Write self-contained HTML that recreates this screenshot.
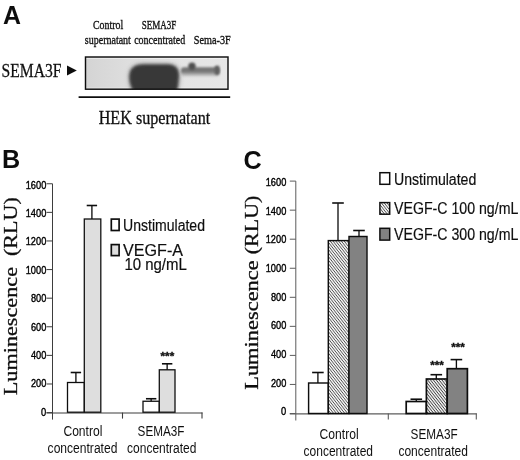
<!DOCTYPE html>
<html lang="en"><head><meta charset="utf-8"><title>Figure</title>
<style>html,body{margin:0;padding:0;background:#fff}svg{display:block}</style>
</head><body>
<svg width="520" height="460" viewBox="0 0 520 460">
<rect width="520" height="460" fill="#fff"/>
<filter id="soft" x="0" y="0" width="100%" height="100%" filterUnits="userSpaceOnUse" primitiveUnits="userSpaceOnUse"><feGaussianBlur stdDeviation="0.45"/></filter>
<g filter="url(#soft)">
<rect width="520" height="460" fill="#fff"/>
<text x="2.9" y="24.3" font-family='"Liberation Sans", Arial, sans-serif' font-size="25.4" font-weight="bold" text-anchor="start" fill="#111" textLength="18" lengthAdjust="spacingAndGlyphs">A</text>
<text x="2.1" y="168.3" font-family='"Liberation Sans", Arial, sans-serif' font-size="25.2" font-weight="bold" text-anchor="start" fill="#111">B</text>
<text x="243.6" y="168.5" font-family='"Liberation Sans", Arial, sans-serif' font-size="25.2" font-weight="bold" text-anchor="start" fill="#111">C</text>
<text x="93.0" y="29" font-family='"Liberation Serif", "Times New Roman", serif' font-size="13.4" font-weight="normal" text-anchor="start" fill="#111" textLength="30.2" lengthAdjust="spacingAndGlyphs" stroke="#111" stroke-width="0.35">Control</text>
<text x="141.8" y="28.8" font-family='"Liberation Serif", "Times New Roman", serif' font-size="12.8" font-weight="normal" text-anchor="start" fill="#111" textLength="34.6" lengthAdjust="spacingAndGlyphs" stroke="#111" stroke-width="0.35">SEMA3F</text>
<text x="84.8" y="43.5" font-family='"Liberation Serif", "Times New Roman", serif' font-size="13.4" font-weight="normal" text-anchor="start" fill="#111" textLength="46.1" lengthAdjust="spacingAndGlyphs" stroke="#111" stroke-width="0.35">supernatant</text>
<text x="134.2" y="43.5" font-family='"Liberation Serif", "Times New Roman", serif' font-size="13.4" font-weight="normal" text-anchor="start" fill="#111" textLength="51.0" lengthAdjust="spacingAndGlyphs" stroke="#111" stroke-width="0.35">concentrated</text>
<text x="193.8" y="43.5" font-family='"Liberation Serif", "Times New Roman", serif' font-size="13.4" font-weight="normal" text-anchor="start" fill="#111" textLength="36.9" lengthAdjust="spacingAndGlyphs" stroke="#111" stroke-width="0.35">Sema-3F</text>
<text x="1.6" y="76.6" font-family='"Liberation Serif", "Times New Roman", serif' font-size="19.4" font-weight="normal" text-anchor="start" fill="#111" textLength="59.8" lengthAdjust="spacingAndGlyphs" stroke="#111" stroke-width="0.3">SEMA3F</text>
<polygon points="67,65.6 76.8,70.6 67,75.6" fill="#111"/>
<text x="98.7" y="123.8" font-family='"Liberation Serif", "Times New Roman", serif' font-size="18.6" font-weight="normal" text-anchor="start" fill="#111" textLength="111.6" lengthAdjust="spacingAndGlyphs" stroke="#111" stroke-width="0.3">HEK supernatant</text>
<defs>
<filter id="b1" x="-20%" y="-20%" width="140%" height="140%"><feGaussianBlur stdDeviation="1.8"/></filter>
<filter id="b2" x="-20%" y="-50%" width="140%" height="200%"><feGaussianBlur stdDeviation="1.25"/></filter>
<filter id="b3" x="-20%" y="-20%" width="140%" height="140%"><feGaussianBlur stdDeviation="2.6"/></filter>
<linearGradient id="bg" x1="0" x2="1" y1="0" y2="0"><stop offset="0" stop-color="#d4d4d4"/><stop offset="0.3" stop-color="#dedede"/><stop offset="0.62" stop-color="#e4e4e4"/><stop offset="1" stop-color="#e6e6e6"/></linearGradient>
<clipPath id="bc"><rect x="85.5" y="57" width="142.5" height="32.2"/></clipPath>
<pattern id="hat" width="2.2" height="2.2" patternUnits="userSpaceOnUse" patternTransform="rotate(52)"><rect width="2.2" height="2.2" fill="#fafafa"/><rect width="2.2" height="0.82" fill="#505050"/></pattern>
<pattern id="hat2" width="2.25" height="2.25" patternUnits="userSpaceOnUse" patternTransform="rotate(52)"><rect width="2.25" height="2.25" fill="#fafafa"/><rect width="2.25" height="0.9" fill="#444"/></pattern>
</defs>
<rect x="85.5" y="57" width="142.5" height="32.2" fill="url(#bg)"/>
<rect x="86" y="57.6" width="141.5" height="1.2" fill="#fff" opacity="0.55"/>
<rect x="86" y="87.6" width="141.5" height="1.2" fill="#fff" opacity="0.45"/>
<g clip-path="url(#bc)">
<path d="M143,63.4 H168 Q180,63.4 180,76 Q180,86 176,96 H133 Q128.8,86 128.8,77 Q128.8,63.4 143,63.4 Z" fill="#8a8a8a" opacity="0.55" filter="url(#b3)"/>
<path d="M144,64.3 H167.5 Q179,64.3 179,76 Q179,86 175.4,96 H136 Q129.2,86 129.2,77 Q129.2,64.3 144,64.3 Z" fill="#383838" filter="url(#b1)"/>
<rect x="181" y="67.3" width="38.6" height="6.9" rx="3" fill="#757575" filter="url(#b2)"/>
<rect x="181" y="72" width="38" height="4.5" rx="2" fill="#aaa" opacity="0.5" filter="url(#b2)"/>
<rect x="214.6" y="65.4" width="5" height="9.6" rx="2.4" fill="#606060" filter="url(#b2)"/>
<circle cx="192" cy="66.2" r="3.7" fill="#505050" filter="url(#b2)"/>
</g>
<rect x="85.5" y="57" width="142.5" height="32.2" fill="none" stroke="#111" stroke-width="1.45"/>
<line x1="78.6" y1="97.2" x2="230.2" y2="97.2" stroke="#111" stroke-width="1.8"/>
<line x1="52.5" y1="183.75" x2="52.5" y2="419.6" stroke="#3c3c3c" stroke-width="1"/>
<line x1="46.5" y1="413.0" x2="202.5" y2="413.0" stroke="#3c3c3c" stroke-width="1.1"/>
<line x1="122.5" y1="412.6" x2="122.5" y2="418.6" stroke="#3c3c3c" stroke-width="1.1"/>
<line x1="202" y1="412.6" x2="202" y2="418.6" stroke="#3c3c3c" stroke-width="1.1"/>
<line x1="46.5" y1="412.60" x2="52.5" y2="412.60" stroke="#3c3c3c" stroke-width="1"/>
<text x="41.099999999999994" y="415.65" font-family='"Liberation Sans", Arial, sans-serif' font-size="11.8" font-weight="normal" text-anchor="start" fill="#000" textLength="5.2" lengthAdjust="spacingAndGlyphs" stroke="#000" stroke-width="0.4">0</text>
<line x1="46.5" y1="383.99" x2="52.5" y2="383.99" stroke="#3c3c3c" stroke-width="1"/>
<text x="30.9" y="387.29" font-family='"Liberation Sans", Arial, sans-serif' font-size="11.8" font-weight="normal" text-anchor="start" fill="#000" textLength="15.4" lengthAdjust="spacingAndGlyphs" stroke="#000" stroke-width="0.4">200</text>
<line x1="46.5" y1="355.39" x2="52.5" y2="355.39" stroke="#3c3c3c" stroke-width="1"/>
<text x="30.9" y="358.92" font-family='"Liberation Sans", Arial, sans-serif' font-size="11.8" font-weight="normal" text-anchor="start" fill="#000" textLength="15.4" lengthAdjust="spacingAndGlyphs" stroke="#000" stroke-width="0.4">400</text>
<line x1="46.5" y1="326.78" x2="52.5" y2="326.78" stroke="#3c3c3c" stroke-width="1"/>
<text x="30.9" y="330.56" font-family='"Liberation Sans", Arial, sans-serif' font-size="11.8" font-weight="normal" text-anchor="start" fill="#000" textLength="15.4" lengthAdjust="spacingAndGlyphs" stroke="#000" stroke-width="0.4">600</text>
<line x1="46.5" y1="298.18" x2="52.5" y2="298.18" stroke="#3c3c3c" stroke-width="1"/>
<text x="30.9" y="302.2" font-family='"Liberation Sans", Arial, sans-serif' font-size="11.8" font-weight="normal" text-anchor="start" fill="#000" textLength="15.4" lengthAdjust="spacingAndGlyphs" stroke="#000" stroke-width="0.4">800</text>
<line x1="46.5" y1="269.57" x2="52.5" y2="269.57" stroke="#3c3c3c" stroke-width="1"/>
<text x="25.699999999999996" y="273.84" font-family='"Liberation Sans", Arial, sans-serif' font-size="11.8" font-weight="normal" text-anchor="start" fill="#000" textLength="20.6" lengthAdjust="spacingAndGlyphs" stroke="#000" stroke-width="0.4">1000</text>
<line x1="46.5" y1="240.96" x2="52.5" y2="240.96" stroke="#3c3c3c" stroke-width="1"/>
<text x="25.699999999999996" y="245.47" font-family='"Liberation Sans", Arial, sans-serif' font-size="11.8" font-weight="normal" text-anchor="start" fill="#000" textLength="20.6" lengthAdjust="spacingAndGlyphs" stroke="#000" stroke-width="0.4">1200</text>
<line x1="46.5" y1="212.36" x2="52.5" y2="212.36" stroke="#3c3c3c" stroke-width="1"/>
<text x="25.699999999999996" y="217.11" font-family='"Liberation Sans", Arial, sans-serif' font-size="11.8" font-weight="normal" text-anchor="start" fill="#000" textLength="20.6" lengthAdjust="spacingAndGlyphs" stroke="#000" stroke-width="0.4">1400</text>
<line x1="46.5" y1="183.75" x2="52.5" y2="183.75" stroke="#3c3c3c" stroke-width="1"/>
<text x="25.699999999999996" y="188.75" font-family='"Liberation Sans", Arial, sans-serif' font-size="11.8" font-weight="normal" text-anchor="start" fill="#000" textLength="20.6" lengthAdjust="spacingAndGlyphs" stroke="#000" stroke-width="0.4">1600</text>
<rect x="67.5" y="382.5" width="16.799999999999997" height="29.700000000000045" fill="#fff" stroke="#111" stroke-width="1.3"/>
<line x1="75.9" y1="382.5" x2="75.9" y2="372.5" stroke="#111" stroke-width="1.35"/>
<line x1="70.7" y1="372.5" x2="81.10000000000001" y2="372.5" stroke="#111" stroke-width="1.6"/>
<rect x="84.3" y="219.0" width="16.5" height="193.20000000000005" fill="#dedede" stroke="#111" stroke-width="1.3"/>
<line x1="91.9" y1="219.0" x2="91.9" y2="205.5" stroke="#111" stroke-width="1.35"/>
<line x1="86.7" y1="205.5" x2="97.10000000000001" y2="205.5" stroke="#111" stroke-width="1.6"/>
<rect x="143" y="401.25" width="16.30000000000001" height="10.950000000000045" fill="#fff" stroke="#111" stroke-width="1.3"/>
<line x1="151.15" y1="401.25" x2="151.15" y2="398.75" stroke="#111" stroke-width="1.35"/>
<line x1="145.95000000000002" y1="398.75" x2="156.35" y2="398.75" stroke="#111" stroke-width="1.6"/>
<rect x="159.3" y="369.8" width="15.699999999999989" height="42.400000000000034" fill="#dedede" stroke="#111" stroke-width="1.3"/>
<line x1="167.15" y1="369.8" x2="167.15" y2="363.8" stroke="#111" stroke-width="1.35"/>
<line x1="161.95000000000002" y1="363.8" x2="172.35" y2="363.8" stroke="#111" stroke-width="1.6"/>
<g transform="translate(16.5,0)">
<text transform="translate(0,395.2) rotate(-90)" font-family='"Liberation Serif", serif' font-size="18.2" fill="#111" stroke="#111" stroke-width="0.3" textLength="128.2" lengthAdjust="spacingAndGlyphs">Luminescence</text>
<text transform="translate(0,256.0) rotate(-90)" font-family='"Liberation Serif", serif' font-size="18.2" fill="#111" stroke="#111" stroke-width="0.3" textLength="58.80000000000001" lengthAdjust="spacingAndGlyphs">(RLU)</text>
</g>
<line x1="295.8" y1="181.1" x2="295.8" y2="420.5" stroke="#5c5c5c" stroke-width="1"/>
<line x1="289.8" y1="413.9" x2="476.8" y2="413.9" stroke="#5c5c5c" stroke-width="1.1"/>
<line x1="388.3" y1="413.5" x2="388.3" y2="419.5" stroke="#5c5c5c" stroke-width="1.1"/>
<line x1="476.3" y1="413.5" x2="476.3" y2="419.5" stroke="#5c5c5c" stroke-width="1.1"/>
<line x1="289.8" y1="413.50" x2="295.8" y2="413.50" stroke="#5c5c5c" stroke-width="1"/>
<text x="281.1" y="415.35" font-family='"Liberation Sans", Arial, sans-serif' font-size="11.8" font-weight="normal" text-anchor="start" fill="#000" textLength="5.2" lengthAdjust="spacingAndGlyphs" stroke="#000" stroke-width="0.4">0</text>
<line x1="289.8" y1="384.45" x2="295.8" y2="384.45" stroke="#5c5c5c" stroke-width="1"/>
<text x="270.90000000000003" y="386.7" font-family='"Liberation Sans", Arial, sans-serif' font-size="11.8" font-weight="normal" text-anchor="start" fill="#000" textLength="15.4" lengthAdjust="spacingAndGlyphs" stroke="#000" stroke-width="0.4">200</text>
<line x1="289.8" y1="355.40" x2="295.8" y2="355.40" stroke="#5c5c5c" stroke-width="1"/>
<text x="270.90000000000003" y="358.05" font-family='"Liberation Sans", Arial, sans-serif' font-size="11.8" font-weight="normal" text-anchor="start" fill="#000" textLength="15.4" lengthAdjust="spacingAndGlyphs" stroke="#000" stroke-width="0.4">400</text>
<line x1="289.8" y1="326.35" x2="295.8" y2="326.35" stroke="#5c5c5c" stroke-width="1"/>
<text x="270.90000000000003" y="329.4" font-family='"Liberation Sans", Arial, sans-serif' font-size="11.8" font-weight="normal" text-anchor="start" fill="#000" textLength="15.4" lengthAdjust="spacingAndGlyphs" stroke="#000" stroke-width="0.4">600</text>
<line x1="289.8" y1="297.30" x2="295.8" y2="297.30" stroke="#5c5c5c" stroke-width="1"/>
<text x="270.90000000000003" y="300.75" font-family='"Liberation Sans", Arial, sans-serif' font-size="11.8" font-weight="normal" text-anchor="start" fill="#000" textLength="15.4" lengthAdjust="spacingAndGlyphs" stroke="#000" stroke-width="0.4">800</text>
<line x1="289.8" y1="268.25" x2="295.8" y2="268.25" stroke="#5c5c5c" stroke-width="1"/>
<text x="265.7" y="272.1" font-family='"Liberation Sans", Arial, sans-serif' font-size="11.8" font-weight="normal" text-anchor="start" fill="#000" textLength="20.6" lengthAdjust="spacingAndGlyphs" stroke="#000" stroke-width="0.4">1000</text>
<line x1="289.8" y1="239.20" x2="295.8" y2="239.20" stroke="#5c5c5c" stroke-width="1"/>
<text x="265.7" y="243.45" font-family='"Liberation Sans", Arial, sans-serif' font-size="11.8" font-weight="normal" text-anchor="start" fill="#000" textLength="20.6" lengthAdjust="spacingAndGlyphs" stroke="#000" stroke-width="0.4">1200</text>
<line x1="289.8" y1="210.15" x2="295.8" y2="210.15" stroke="#5c5c5c" stroke-width="1"/>
<text x="265.7" y="214.8" font-family='"Liberation Sans", Arial, sans-serif' font-size="11.8" font-weight="normal" text-anchor="start" fill="#000" textLength="20.6" lengthAdjust="spacingAndGlyphs" stroke="#000" stroke-width="0.4">1400</text>
<line x1="289.8" y1="181.10" x2="295.8" y2="181.10" stroke="#5c5c5c" stroke-width="1"/>
<text x="265.7" y="186.15" font-family='"Liberation Sans", Arial, sans-serif' font-size="11.8" font-weight="normal" text-anchor="start" fill="#000" textLength="20.6" lengthAdjust="spacingAndGlyphs" stroke="#000" stroke-width="0.4">1600</text>
<rect x="308.6" y="383" width="19.69999999999999" height="30.5" fill="#fff" stroke="#111" stroke-width="1.45"/>
<line x1="317.9" y1="383" x2="317.9" y2="372.5" stroke="#111" stroke-width="1.35"/>
<line x1="312.09999999999997" y1="372.5" x2="323.7" y2="372.5" stroke="#111" stroke-width="1.6"/>
<rect x="328.3" y="240.6" width="20.69999999999999" height="172.9" fill="url(#hat)" stroke="#111" stroke-width="1.45"/>
<line x1="338.0" y1="240.6" x2="338.0" y2="203" stroke="#111" stroke-width="1.35"/>
<line x1="332.2" y1="203" x2="343.8" y2="203" stroke="#111" stroke-width="1.6"/>
<rect x="349.0" y="236.5" width="18.0" height="177.0" fill="#828282" stroke="#111" stroke-width="1.45"/>
<line x1="359.0" y1="236.5" x2="359.0" y2="230.5" stroke="#111" stroke-width="1.35"/>
<line x1="353.2" y1="230.5" x2="364.8" y2="230.5" stroke="#111" stroke-width="1.6"/>
<rect x="406.2" y="401.5" width="20.19999999999999" height="12.0" fill="#fff" stroke="#111" stroke-width="1.7"/>
<line x1="416.29999999999995" y1="401.5" x2="416.29999999999995" y2="399.2" stroke="#111" stroke-width="1.35"/>
<line x1="410.49999999999994" y1="399.2" x2="422.09999999999997" y2="399.2" stroke="#111" stroke-width="1.6"/>
<rect x="426.4" y="379" width="20.80000000000001" height="34.5" fill="url(#hat2)" stroke="#111" stroke-width="1.7"/>
<line x1="436.3" y1="379" x2="436.3" y2="374.7" stroke="#111" stroke-width="1.35"/>
<line x1="430.5" y1="374.7" x2="442.1" y2="374.7" stroke="#111" stroke-width="1.6"/>
<rect x="447.2" y="368.7" width="20.19999999999999" height="44.80000000000001" fill="#828282" stroke="#111" stroke-width="1.7"/>
<line x1="456.4" y1="368.7" x2="456.4" y2="359.6" stroke="#111" stroke-width="1.35"/>
<line x1="450.59999999999997" y1="359.6" x2="462.2" y2="359.6" stroke="#111" stroke-width="1.6"/>
<g transform="translate(257.6,0)">
<text transform="translate(0,389.8) rotate(-90)" font-family='"Liberation Serif", serif' font-size="18.2" fill="#111" stroke="#111" stroke-width="0.3" textLength="129.5" lengthAdjust="spacingAndGlyphs">Luminescence</text>
<text transform="translate(0,254.2) rotate(-90)" font-family='"Liberation Serif", serif' font-size="18.2" fill="#111" stroke="#111" stroke-width="0.3" textLength="58.599999999999994" lengthAdjust="spacingAndGlyphs">(RLU)</text>
</g>
<text x="160.6" y="359.8" font-family='"Liberation Sans", Arial, sans-serif' font-size="10" font-weight="bold" text-anchor="start" fill="#111" textLength="13.6" lengthAdjust="spacingAndGlyphs" stroke="#111" stroke-width="0.35">***</text>
<text x="430.2" y="369.4" font-family='"Liberation Sans", Arial, sans-serif' font-size="10" font-weight="bold" text-anchor="start" fill="#111" textLength="13.6" lengthAdjust="spacingAndGlyphs" stroke="#111" stroke-width="0.35">***</text>
<text x="451.2" y="350.8" font-family='"Liberation Sans", Arial, sans-serif' font-size="10" font-weight="bold" text-anchor="start" fill="#111" textLength="13.6" lengthAdjust="spacingAndGlyphs" stroke="#111" stroke-width="0.35">***</text>
<rect x="111.3" y="219.1" width="7.8" height="11.4" fill="#fff" stroke="#111" stroke-width="1.7"/>
<text x="123.0" y="230.7" font-family='"Liberation Sans", Arial, sans-serif' font-size="16" font-weight="normal" text-anchor="start" fill="#111" textLength="82.0" lengthAdjust="spacingAndGlyphs" stroke="#111" stroke-width="0.2">Unstimulated</text>
<rect x="111.3" y="244.6" width="7.8" height="11" fill="#dedede" stroke="#111" stroke-width="1.7"/>
<text x="123.0" y="255.6" font-family='"Liberation Sans", Arial, sans-serif' font-size="15.8" font-weight="normal" text-anchor="start" fill="#111" textLength="60.0" lengthAdjust="spacingAndGlyphs" stroke="#111" stroke-width="0.2">VEGF-A</text>
<text x="124.4" y="270.3" font-family='"Liberation Sans", Arial, sans-serif' font-size="15.6" font-weight="normal" text-anchor="start" fill="#111" textLength="62.4" lengthAdjust="spacingAndGlyphs" stroke="#111" stroke-width="0.2">10 ng/mL</text>
<rect x="379.9" y="172.7" width="9.8" height="11.6" fill="#fff" stroke="#111" stroke-width="1.5"/>
<text x="394.0" y="184.6" font-family='"Liberation Sans", Arial, sans-serif' font-size="16" font-weight="normal" text-anchor="start" fill="#111" textLength="82.3" lengthAdjust="spacingAndGlyphs" stroke="#111" stroke-width="0.2">Unstimulated</text>
<rect x="379.9" y="202.6" width="9.8" height="11.6" fill="url(#hat)" stroke="#111" stroke-width="1.5"/>
<text x="394.0" y="214.3" font-family='"Liberation Sans", Arial, sans-serif' font-size="16" font-weight="normal" text-anchor="start" fill="#111" textLength="124.3" lengthAdjust="spacingAndGlyphs" stroke="#111" stroke-width="0.2">VEGF-C 100 ng/mL</text>
<rect x="379.9" y="228.3" width="9.8" height="11.8" fill="#828282" stroke="#111" stroke-width="1.5"/>
<text x="394.0" y="239.5" font-family='"Liberation Sans", Arial, sans-serif' font-size="16" font-weight="normal" text-anchor="start" fill="#111" textLength="124.3" lengthAdjust="spacingAndGlyphs" stroke="#111" stroke-width="0.2">VEGF-C 300 ng/mL</text>
<text x="63.4" y="436.2" font-family='"Liberation Sans", Arial, sans-serif' font-size="14" font-weight="normal" text-anchor="start" fill="#111" textLength="39" lengthAdjust="spacingAndGlyphs">Control</text>
<text x="47.6" y="453.1" font-family='"Liberation Sans", Arial, sans-serif' font-size="14" font-weight="normal" text-anchor="start" fill="#111" textLength="69.8" lengthAdjust="spacingAndGlyphs">concentrated</text>
<text x="137.6" y="436.0" font-family='"Liberation Sans", Arial, sans-serif' font-size="14" font-weight="normal" text-anchor="start" fill="#111" textLength="46.8" lengthAdjust="spacingAndGlyphs">SEMA3F</text>
<text x="127.1" y="453.1" font-family='"Liberation Sans", Arial, sans-serif' font-size="14" font-weight="normal" text-anchor="start" fill="#111" textLength="69.3" lengthAdjust="spacingAndGlyphs">concentrated</text>
<text x="319.6" y="439.0" font-family='"Liberation Sans", Arial, sans-serif' font-size="14" font-weight="normal" text-anchor="start" fill="#111" textLength="39" lengthAdjust="spacingAndGlyphs">Control</text>
<text x="303.6" y="456.0" font-family='"Liberation Sans", Arial, sans-serif' font-size="14" font-weight="normal" text-anchor="start" fill="#111" textLength="69.4" lengthAdjust="spacingAndGlyphs">concentrated</text>
<text x="410.6" y="439.0" font-family='"Liberation Sans", Arial, sans-serif' font-size="14" font-weight="normal" text-anchor="start" fill="#111" textLength="47" lengthAdjust="spacingAndGlyphs">SEMA3F</text>
<text x="398.4" y="456.2" font-family='"Liberation Sans", Arial, sans-serif' font-size="14" font-weight="normal" text-anchor="start" fill="#111" textLength="69.6" lengthAdjust="spacingAndGlyphs">concentrated</text>
</g>
</svg>
</body></html>
